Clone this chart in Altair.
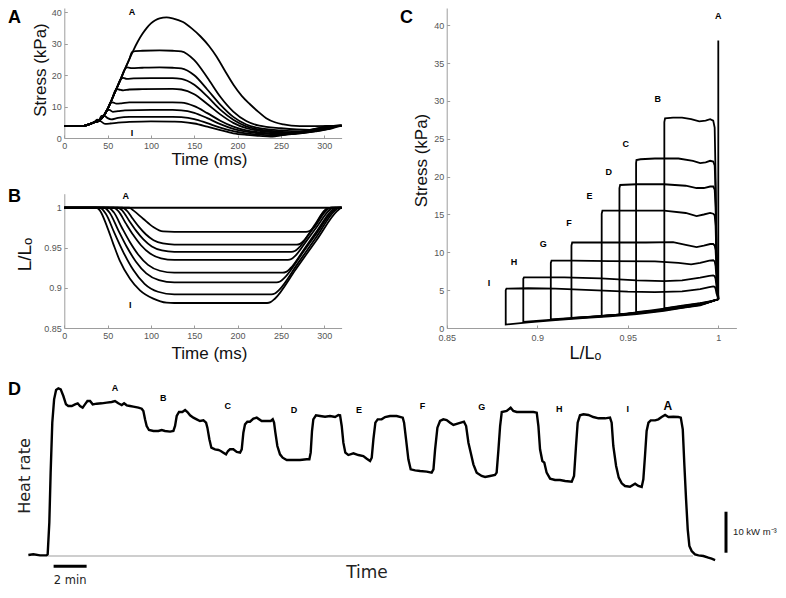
import altair as alt
import pandas as pd

RUNS = ["A", "B", "C", "D", "E", "F", "G", "H", "I"]

# ---------------- Panel A: stress (kPa) vs time (ms), (time, stress) per run
stress_A = [(0, 3.8), (20, 3.8), (25, 4.0), (30, 4.5), (35, 5.0), (40, 5.5), (45, 6.8), (50, 9.2), (55, 12.3),
            (60, 15.5), (65, 18.6), (70, 21.9), (75, 25.0), (80, 28.0), (85, 30.7), (90, 33.0), (95, 34.9),
            (100, 36.4), (105, 37.4), (110, 38.0), (118, 38.3), (125, 38.0), (137, 36.8), (147, 34.8),
            (157, 32.3), (167, 29.2), (176, 25.7), (185, 21.5), (195, 17.0), (205, 13.3), (214, 10.8),
            (224, 8.3), (233, 6.3), (243, 5.0), (253, 4.3), (262, 3.9), (272, 3.8), (290, 3.8), (320, 3.9)]
stress_B = [(0, 3.8), (20, 3.8), (25, 4.0), (30, 4.5), (35, 5.0), (40, 5.5), (45, 6.8), (50, 9.2), (55, 12.3),
            (60, 15.5), (65, 18.6), (70, 21.9), (75, 25.0), (78, 27.2), (82, 27.6), (90, 27.7), (110, 27.8),
            (125, 27.7), (135, 27.5), (150, 24.7), (165, 19.2), (180, 13.1), (195, 8.4), (210, 5.4),
            (225, 3.9), (250, 3.1), (283, 2.6), (293, 3.1), (303, 3.8), (320, 3.9)]
stress_C = [(0, 3.8), (20, 3.8), (25, 4.0), (30, 4.5), (35, 5.0), (40, 5.5), (45, 6.8), (50, 9.2), (55, 12.3),
            (60, 15.5), (65, 18.6), (70, 21.9), (73, 22.4), (78, 22.2), (90, 22.3), (110, 22.4), (125, 22.3),
            (135, 22.1), (150, 19.9), (165, 15.4), (180, 10.6), (195, 6.7), (210, 4.3), (225, 3.1),
            (250, 2.4), (272, 2.1), (285, 2.6), (295, 3.1), (303, 3.8), (320, 3.9)]
stress_D = [(0, 3.8), (20, 3.8), (25, 4.0), (30, 4.5), (35, 5.0), (40, 5.5), (45, 6.8), (50, 9.2), (55, 12.3),
            (60, 15.5), (65, 18.6), (68, 19.1), (72, 18.8), (80, 18.9), (100, 19.0), (125, 19.0), (135, 18.8),
            (150, 16.9), (165, 13.2), (180, 9.0), (195, 5.8), (210, 3.7), (225, 2.7), (245, 2.1), (266, 1.8),
            (280, 2.3), (293, 2.9), (305, 3.8), (320, 3.9)]
stress_E = [(0, 3.8), (20, 3.8), (25, 4.0), (30, 4.5), (35, 5.0), (40, 5.5), (45, 6.8), (50, 9.2), (55, 12.3),
            (60, 15.5), (63, 15.4), (68, 15.1), (75, 15.4), (90, 15.5), (125, 15.6), (135, 15.4), (150, 13.9),
            (165, 10.8), (180, 7.5), (195, 4.8), (210, 3.1), (225, 2.3), (245, 1.8), (262, 1.6), (278, 2.0),
            (295, 2.8), (308, 3.8), (320, 3.9)]
stress_F = [(0, 3.8), (20, 3.8), (25, 4.0), (30, 4.5), (35, 5.0), (40, 5.5), (45, 6.8), (50, 9.2), (53, 11.1),
            (56, 11.3), (60, 10.9), (66, 11.0), (75, 11.3), (100, 11.3), (125, 11.3), (135, 11.2), (150, 10.1),
            (165, 7.9), (180, 5.5), (195, 3.6), (210, 2.4), (225, 1.8), (240, 1.5), (256, 1.3), (275, 1.8),
            (295, 2.6), (311, 3.8), (320, 3.9)]
stress_G = [(0, 3.8), (20, 3.8), (25, 4.0), (30, 4.5), (35, 5.0), (40, 5.5), (45, 6.8), (49, 8.8), (52, 8.9),
            (56, 8.3), (62, 8.5), (70, 8.8), (100, 8.9), (125, 8.9), (135, 8.8), (150, 8.0), (165, 6.3),
            (180, 4.4), (195, 2.9), (210, 2.0), (225, 1.5), (249, 1.15), (270, 1.6), (292, 2.4), (305, 3.0),
            (313, 3.8), (320, 3.9)]
stress_H = [(0, 3.8), (20, 3.8), (25, 4.0), (30, 4.5), (35, 5.0), (40, 5.6), (43, 7.0), (46, 7.1), (50, 6.3),
            (54, 5.9), (62, 6.4), (75, 6.7), (100, 6.7), (125, 6.7), (135, 6.6), (150, 6.0), (165, 4.7),
            (180, 3.3), (195, 2.2), (210, 1.45), (225, 1.1), (243, 0.8), (265, 1.3), (290, 2.1), (305, 2.9),
            (315, 3.8), (320, 3.9)]
stress_I = [(0, 3.8), (20, 3.8), (25, 4.0), (30, 4.5), (35, 5.2), (38, 5.8), (42, 5.3), (47, 4.5), (53, 4.6),
            (62, 4.9), (75, 5.1), (100, 5.3), (125, 5.2), (135, 5.1), (150, 4.6), (165, 3.6), (180, 2.5),
            (195, 1.5), (210, 1.0), (225, 0.7), (238, 0.45), (258, 1.2), (278, 1.7), (298, 2.6), (308, 3.0),
            (318, 3.8), (320, 3.85)]

# ---------------- Panel B: L/Lo vs time (ms)
length_A = [(0, 1.0), (320, 1.0)]
length_B = [(0, 1.0), (75, 1.0), (79.6, 0.9967), (91, 0.9863), (102.7, 0.976), (114, 0.9705), (127, 0.970),
            (279, 0.970), (283, 0.971), (288, 0.9755), (300, 0.996), (304, 0.9995), (308, 1.0), (320, 1.0)]
length_C = [(0, 1.0), (67, 1.0), (71.8, 0.9968), (79, 0.9862), (86.2, 0.9761), (94, 0.9669), (103, 0.9595),
            (113.8, 0.9554), (127, 0.954), (268, 0.954), (272, 0.955), (277, 0.9595), (288.5, 0.9778),
            (300, 0.996), (304, 0.9995), (308, 1.0), (320, 1.0)]
length_D = [(0, 1.0), (62, 1.0), (67.2, 0.9962), (75, 0.9835), (82.8, 0.9714), (91.3, 0.9604), (101, 0.9516),
            (112.7, 0.9467), (127, 0.945), (262, 0.945), (266, 0.946), (271, 0.9505), (281.3, 0.9657),
            (291.7, 0.9808), (302, 0.996), (306, 0.9995), (310, 1.0), (320, 1.0)]
length_E = [(0, 1.0), (57, 1.0), (62.6, 0.9955), (71, 0.9805), (79.4, 0.9662), (88.5, 0.9532), (99, 0.9428),
            (111.6, 0.9369), (127, 0.935), (258, 0.935), (262, 0.936), (267, 0.9405), (279.7, 0.959),
            (292.3, 0.9775), (305, 0.996), (309, 0.9995), (313, 1.0), (320, 1.0)]
length_F = [(0, 1.0), (51, 1.0), (57.1, 0.9943), (66.2, 0.9757), (75.3, 0.9579), (85.2, 0.9417), (96.6, 0.9287),
            (110.3, 0.9214), (127, 0.919), (252, 0.919), (256, 0.920), (261, 0.9245), (276.7, 0.9483),
            (292.3, 0.9722), (308, 0.996), (312, 0.9995), (316, 1.0), (320, 1.0)]
length_G = [(0, 1.0), (46, 1.0), (52.5, 0.9935), (62.2, 0.9721), (71.9, 0.9516), (82.5, 0.933), (94.6, 0.9182),
            (109.2, 0.9098), (127, 0.907), (245, 0.907), (249, 0.908), (254, 0.9125), (272.7, 0.9403),
            (291.3, 0.9682), (310, 0.996), (314, 0.9995), (318, 1.0), (320, 1.0)]
length_H = [(0, 1.0), (41, 1.0), (47.9, 0.9924), (58.2, 0.9676), (68.5, 0.9438), (79.7, 0.9222), (92.6, 0.905),
            (108.1, 0.8952), (127, 0.892), (239, 0.892), (243, 0.893), (248, 0.8975), (269.3, 0.9303),
            (290.7, 0.9632), (312, 0.996), (316, 0.9995), (320, 1.0)]
length_I = [(0, 1.0), (37, 1.0), (41, 0.9967), (48.8, 0.978), (56.5, 0.955), (64, 0.934), (75.8, 0.9115),
            (87.3, 0.897), (102.7, 0.8866), (118, 0.8816), (127, 0.8812), (234, 0.8812), (238, 0.8822),
            (243, 0.8865), (267, 0.923), (291, 0.9595), (315, 0.996), (319, 0.9995), (320, 0.9997)]

# ---------------- Panel C: work loops (L/Lo, stress)
loop_A = [(1.0, 3.8), (1.0, 38.0), (1.0, 3.8)]
loop_B = [(1.0, 3.8), (0.999, 10), (0.9985, 20), (0.998, 26.5), (0.9972, 27.4), (0.9955, 27.6), (0.993, 27.4),
          (0.9895, 27.3), (0.985, 27.6), (0.980, 27.8), (0.975, 27.8), (0.9706, 27.7), (0.9702, 27.2),
          (0.9702, 2.6), (0.980, 2.95), (0.990, 3.3), (0.996, 3.55), (1.0, 3.8)]
loop_C = [(1.0, 3.8), (0.999, 10), (0.9985, 18), (0.998, 21.5), (0.9972, 22.0), (0.9955, 22.1), (0.993, 21.9),
          (0.990, 21.8), (0.986, 22.1), (0.978, 22.4), (0.965, 22.4), (0.957, 22.3), (0.9548, 22.2),
          (0.9546, 21.8), (0.9546, 2.1), (0.962, 2.3), (0.970, 2.55), (0.980, 2.9), (0.990, 3.25),
          (0.996, 3.5), (1.0, 3.8)]
loop_D = [(1.0, 3.8), (0.999, 10), (0.9985, 16), (0.998, 18.3), (0.9972, 18.7), (0.9955, 18.7), (0.992, 18.5),
          (0.988, 18.5), (0.982, 18.8), (0.970, 19.0), (0.955, 19.0), (0.9458, 18.9), (0.9454, 18.5),
          (0.9454, 1.8), (0.955, 2.05), (0.965, 2.3), (0.975, 2.65), (0.985, 3.0), (0.993, 3.35), (1.0, 3.8)]
loop_E = [(1.0, 3.8), (0.999, 9), (0.9985, 13.5), (0.998, 14.9), (0.9972, 15.1), (0.9955, 15.2), (0.992, 15.0),
          (0.988, 14.8), (0.982, 15.2), (0.970, 15.5), (0.950, 15.5), (0.936, 15.5), (0.9356, 15.1),
          (0.9356, 1.6), (0.945, 1.78), (0.955, 2.0), (0.965, 2.25), (0.975, 2.6), (0.985, 2.95),
          (0.993, 3.3), (1.0, 3.8)]
loop_F = [(1.0, 3.8), (0.999, 8), (0.9985, 10.3), (0.998, 10.9), (0.9972, 11.1), (0.9955, 11.1), (0.992, 10.9),
          (0.988, 10.7), (0.982, 11.0), (0.975, 11.35), (0.960, 11.3), (0.940, 11.3), (0.9193, 11.3),
          (0.9189, 10.9), (0.9189, 1.33), (0.930, 1.5), (0.945, 1.75), (0.960, 2.1), (0.975, 2.55),
          (0.985, 2.9), (0.993, 3.25), (1.0, 3.8)]
loop_G = [(1.0, 3.8), (0.999, 6.5), (0.9985, 8.2), (0.998, 8.8), (0.9972, 8.95), (0.995, 8.9), (0.990, 8.6),
          (0.985, 8.4), (0.978, 8.6), (0.965, 8.8), (0.940, 8.85), (0.920, 8.9), (0.9079, 8.9), (0.9075, 8.6),
          (0.9075, 1.15), (0.920, 1.32), (0.935, 1.55), (0.950, 1.85), (0.965, 2.25), (0.980, 2.75),
          (0.990, 3.1), (1.0, 3.8)]
loop_H = [(1.0, 3.8), (0.999, 5.5), (0.9985, 6.5), (0.998, 6.85), (0.9972, 6.95), (0.995, 6.9), (0.990, 6.65),
          (0.980, 6.3), (0.970, 6.2), (0.955, 6.3), (0.935, 6.55), (0.915, 6.7), (0.8927, 6.7), (0.8923, 6.5),
          (0.8923, 0.8), (0.905, 1.05), (0.920, 1.3), (0.935, 1.55), (0.950, 1.85), (0.965, 2.2),
          (0.980, 2.7), (0.990, 3.05), (1.0, 3.8)]
loop_I = [(1.0, 3.8), (0.999, 4.6), (0.9985, 5.2), (0.998, 5.45), (0.9972, 5.5), (0.995, 5.4), (0.990, 5.15),
          (0.980, 4.85), (0.965, 4.75), (0.950, 4.8), (0.930, 5.0), (0.910, 5.2), (0.895, 5.25), (0.883, 5.2),
          (0.8826, 5.0), (0.8826, 0.45), (0.895, 0.75), (0.910, 1.05), (0.925, 1.3), (0.940, 1.55),
          (0.955, 1.85), (0.970, 2.25), (0.980, 2.65), (0.990, 3.0), (1.0, 3.8)]

# ---------------- Panel D: heat rate trace (time in min, heat rate in kW m^-3)
heat_trace = [
    (0.02, 0.24), (0.32, 0.41), (0.73, 0.16), (1.13, 0.16), (1.19, 0.41), (1.29, 8.13), (1.37, 20.33),
    (1.47, 32.52), (1.58, 38.21), (1.70, 40.49), (1.84, 40.89), (1.98, 40.65), (2.14, 39.02), (2.30, 36.99),
    (2.44, 36.59), (2.65, 36.59), (2.85, 36.99), (3.01, 37.24), (3.15, 36.59), (3.31, 36.18), (3.45, 36.99),
    (3.60, 37.80), (3.76, 37.80), (3.92, 36.99), (4.16, 37.15), (4.46, 37.24), (4.77, 37.40), (5.07, 37.56),
    (5.27, 37.80), (5.47, 37.24), (5.68, 36.83), (5.82, 37.24), (5.98, 36.75), (6.18, 36.59), (6.38, 36.42),
    (6.69, 36.18), (6.89, 35.93), (6.99, 35.37), (7.09, 33.33), (7.19, 31.71), (7.33, 30.73), (7.60, 30.49),
    (7.90, 30.49), (8.10, 30.73), (8.30, 30.49), (8.61, 30.33), (8.81, 30.49), (8.91, 31.71), (9.01, 34.15),
    (9.15, 35.12), (9.35, 35.12), (9.52, 35.61), (9.66, 35.12), (9.82, 34.31), (10.02, 33.74), (10.22, 33.33),
    (10.42, 32.93), (10.63, 33.09), (10.79, 32.52), (10.87, 31.30), (10.99, 28.46), (11.11, 26.42),
    (11.33, 26.02), (11.54, 25.85), (11.68, 25.61), (11.84, 25.20), (12.00, 24.80), (12.12, 25.61),
    (12.24, 26.02), (12.44, 26.02), (12.65, 25.37), (12.85, 25.20), (12.95, 26.02), (13.05, 30.08),
    (13.15, 32.11), (13.29, 32.76), (13.45, 32.76), (13.66, 33.50), (13.86, 33.74), (14.16, 32.93),
    (14.46, 32.93), (14.71, 32.93), (14.83, 33.33), (14.91, 32.52), (14.99, 30.08), (15.11, 26.83),
    (15.27, 24.80), (15.43, 23.98), (15.68, 23.41), (16.08, 23.41), (16.48, 23.41), (16.89, 23.58),
    (17.05, 23.58), (17.13, 25.20), (17.21, 30.49), (17.29, 33.33), (17.45, 34.31), (17.70, 34.15),
    (18.00, 33.98), (18.30, 34.15), (18.61, 33.90), (18.81, 34.39), (18.91, 34.31), (19.01, 31.71),
    (19.11, 27.64), (19.23, 25.20), (19.41, 24.63), (19.72, 25.04), (20.02, 24.63), (20.32, 24.39),
    (20.53, 23.74), (20.73, 23.17), (20.83, 23.98), (20.93, 28.46), (21.05, 32.52), (21.19, 33.33),
    (21.43, 33.33), (21.64, 33.90), (21.94, 34.15), (22.34, 34.15), (22.71, 33.74), (22.79, 32.52),
    (22.91, 28.46), (23.05, 23.58), (23.19, 21.14), (23.46, 20.89), (23.76, 20.73), (24.16, 20.57),
    (24.46, 20.33), (24.57, 21.14), (24.67, 26.02), (24.81, 31.30), (24.97, 32.93), (25.17, 33.33),
    (25.37, 33.17), (25.58, 32.52), (25.78, 31.95), (26.08, 32.36), (26.42, 32.76), (26.55, 31.71),
    (26.69, 27.64), (26.83, 25.20), (26.99, 22.36), (27.19, 20.33), (27.49, 19.51), (27.70, 19.27),
    (28.00, 19.51), (28.30, 19.76), (28.40, 20.33), (28.51, 26.02), (28.61, 31.71), (28.71, 35.12),
    (29.01, 35.37), (29.25, 36.18), (29.41, 35.37), (29.62, 35.12), (29.92, 35.12), (30.22, 35.12),
    (30.63, 35.12), (30.83, 34.96), (30.93, 31.71), (31.03, 26.02), (31.17, 23.17), (31.29, 22.76),
    (31.43, 20.33), (31.64, 18.86), (31.94, 18.54), (32.24, 18.54), (32.55, 18.29), (32.95, 18.13),
    (33.09, 19.51), (33.21, 26.83), (33.31, 32.52), (33.45, 34.31), (33.66, 34.55), (33.96, 34.39),
    (34.26, 33.90), (34.57, 33.58), (34.97, 33.58), (35.27, 33.74), (35.37, 32.52), (35.47, 26.83),
    (35.64, 21.95), (35.80, 19.11), (35.98, 17.72), (36.18, 17.07), (36.48, 16.91), (36.79, 17.64),
    (36.99, 17.07), (37.19, 16.83), (37.29, 18.70), (37.39, 24.39), (37.49, 30.49), (37.60, 32.52),
    (37.74, 33.09), (38.00, 33.09), (38.20, 33.33), (38.40, 33.90), (38.61, 34.39), (38.81, 33.90),
    (39.11, 33.98), (39.41, 33.90), (39.56, 33.74), (39.68, 30.89), (39.78, 21.95), (39.88, 13.82),
    (39.98, 6.50), (40.08, 2.44), (40.22, 1.22), (40.42, 0.41), (40.63, 0.16), (40.93, 0.00),
    (41.23, -0.41), (41.43, -0.65), (41.64, -0.98)]

# tick values
time_ticks = [0, 50, 100, 150, 200, 250, 300]
stressA_ticks = [0, 10, 20, 30, 40]
lengthB_ticks = [0.85, 0.9, 0.95, 1]
lengthC_ticks = [0.85, 0.9, 0.95, 1]
stressC_ticks = [0, 5, 10, 15, 20, 25, 30, 35, 40]

# run labels
labA_text = ["A", "I"]
labA_t = [78, 78]
labA_v = [40.0, 1.6]
labB_text = ["A", "I"]
labB_t = [71, 76]
labB_L = [1.0146, 0.8787]
labC_text = RUNS
labC_L = [1.0, 0.9665, 0.9489, 0.9395, 0.9288, 0.9175, 0.9033, 0.8872, 0.8734]
labC_v = [41.2, 30.2, 24.35, 20.6, 17.45, 13.9, 11.1, 8.7, 6.0]
labD_text = ["A", "B", "C", "D", "E", "F", "G", "H", "I", "A"]
labD_t = [5.27, 8.2, 12.1, 16.12, 20.06, 23.9, 27.5, 32.2, 36.35, 38.77]
labD_v = [41.0, 38.5, 36.7, 35.7, 35.7, 36.5, 36.3, 35.9, 35.9, 36.5]

# scale bars of panel D
bar_time = [1.55, 3.55]       # 2 min
bar_time_level = -2.5
bar_heat = [0.8, 10.8]        # 10 kW m^-3
bar_heat_at = 42.3
bar_time_label = ("2 min", 2.55, -6.1)
bar_heat_label = ("10 kW m\u207b\u00b3", 42.73, 5.8)
baseline_span = [1.21, 40.3]  # grey zero line of panel D

# ---------------- layout (plot pixels)
W, H = 770, 578
X_AB = [56.3, 333.6]
Y_A = [130, 0]
Y_B = [320, 185.7]
X_C = [438.7, 728.4]
Y_C = [320, 0]
X_D = [40, 685]
Y_D = [548, 384]

AF = "Liberation Sans"
DF = "DejaVu Sans"
GREY = "#9d9d9d"
LABEXPR = "'' + datum.value"


def long_df(series, xname, yname):
    rows = []
    for run, pts in zip(RUNS, series):
        for i, (a, b) in enumerate(pts):
            rows.append({"run": run, xname: a, yname: b, "idx": i})
    return pd.DataFrame(rows)


dfA = long_df([stress_A, stress_B, stress_C, stress_D, stress_E, stress_F, stress_G, stress_H, stress_I], "t", "v")
dfB = long_df([length_A, length_B, length_C, length_D, length_E, length_F, length_G, length_H, length_I], "t", "L")
dfC = long_df([loop_A, loop_B, loop_C, loop_D, loop_E, loop_F, loop_G, loop_H, loop_I], "L", "v")
dfD = pd.DataFrame(heat_trace, columns=["t", "v"])


def main_x(values, y_px, title, tx, ty, tsize=17, tfont=AF, lpad=3):
    return alt.Axis(orient="bottom", offset=y_px - H, values=values, labelExpr=LABEXPR, title=title,
                    titleX=tx, titleY=ty, titleFontSize=tsize, titleFont=tfont, titleAlign="center",
                    titleBaseline="middle", titleFontWeight="normal", titleColor="#111111",
                    labelFont=AF, labelFontSize=9, labelColor="#555555", labelPadding=lpad,
                    labelFlush=False, labelOverlap=False, ticks=False, domainColor=GREY,
                    domainWidth=1, grid=False)


def main_y(values, x_px, title, tx, ty, tsize=17):
    return alt.Axis(orient="left", offset=-x_px, values=values, labelExpr=LABEXPR, title=title,
                    titleX=tx, titleY=ty, titleFontSize=tsize, titleFont=AF, titleAngle=270,
                    titleAlign="center", titleBaseline="middle", titleFontWeight="normal",
                    titleColor="#111111", labelFont=AF, labelFontSize=9, labelColor="#555555",
                    labelPadding=3, labelFlush=False, labelOverlap=False, ticks=False,
                    domainColor=GREY, domainWidth=1, grid=False)


def tick_x(values, y_px):
    return alt.Axis(orient="top", offset=-y_px, values=values, labels=False, domain=False, ticks=True,
                    tickSize=3, tickColor=GREY, tickWidth=1, grid=False, title=None)


def tick_y(values, x_px):
    return alt.Axis(orient="right", offset=x_px - W, values=values, labels=False, domain=False, ticks=True,
                    tickSize=3, tickColor=GREY, tickWidth=1, grid=False, title=None)


def sc(domain, rng):
    return alt.Scale(domain=domain, range=rng, nice=False, zero=False)


lab_style = dict(font=AF, fontSize=9, fontWeight="bold", color="black", align="center", baseline="middle")

# ---- Panel A
sxA, syA = sc([0, 320], X_AB), sc([0, 41.27], Y_A)
pA = alt.layer(
    alt.Chart(dfA).mark_line(color="black", strokeWidth=1.8, interpolate="monotone").encode(
        x=alt.X("t:Q", scale=sxA, axis=main_x(time_ticks, Y_A[0], "Time (ms)", 201, 21.5)),
        y=alt.Y("v:Q", scale=syA, axis=main_y(stressA_ticks, X_AB[0], "Stress (kPa)", -24.3, 61.5)),
        detail="run:N"),
    alt.Chart(pd.DataFrame({"t": labA_t, "v": labA_v, "s": labA_text})).mark_text(**lab_style).encode(
        x=alt.X("t:Q", scale=sxA, axis=tick_x(time_ticks, Y_A[0])),
        y=alt.Y("v:Q", scale=syA, axis=tick_y(stressA_ticks, X_AB[0])),
        text="s:N"),
)

# ---- Panel B
sxB, syB = sc([0, 320], X_AB), sc([0.85, 1.0175], Y_B)
pB = alt.layer(
    alt.Chart(dfB).mark_line(color="black", strokeWidth=1.8, interpolate="monotone").encode(
        x=alt.X("t:Q", scale=sxB, axis=main_x(time_ticks, Y_B[0], "Time (ms)", 201, 25)),
        y=alt.Y("L:Q", scale=syB, axis=main_y(lengthB_ticks, X_AB[0], "L/L\u2092", -40, 246, tsize=19)),
        detail="run:N"),
    alt.Chart(pd.DataFrame({"t": labB_t, "L": labB_L, "s": labB_text})).mark_text(**lab_style).encode(
        x=alt.X("t:Q", scale=sxB, axis=tick_x(time_ticks, Y_B[0])),
        y=alt.Y("L:Q", scale=syB, axis=tick_y(lengthB_ticks, X_AB[0])),
        text="s:N"),
)

# ---- Panel C
sxC, syC = sc([0.85, 1.01], X_C), sc([0, 42.29], Y_C)
pC = alt.layer(
    alt.Chart(dfC).mark_line(color="black", strokeWidth=1.8).encode(
        x=alt.X("L:Q", scale=sxC, axis=main_x(lengthC_ticks, Y_C[0], "L/L\u2092", 577, 25, tsize=18, lpad=5)),
        y=alt.Y("v:Q", scale=syC, axis=main_y(stressC_ticks, X_C[0], "Stress (kPa)", -25, 152)),
        detail="run:N", order=alt.Order("idx:Q")),
    alt.Chart(pd.DataFrame({"L": labC_L, "v": labC_v, "s": labC_text})).mark_text(**lab_style).encode(
        x=alt.X("L:Q", scale=sxC, axis=tick_x(lengthC_ticks, Y_C[0])),
        y=alt.Y("v:Q", scale=syC, axis=tick_y(stressC_ticks, X_C[0])),
        text="s:N"),
)

# ---- Panel D
sxD, syD = sc([1.21, 40.3], X_D), sc([0, 40], Y_D)
labD = pd.DataFrame({"t": labD_t, "v": labD_v, "s": labD_text})
pD = alt.layer(
    alt.Chart(pd.DataFrame({"t1": [baseline_span[0]], "t2": [baseline_span[1]], "v": [0]}))
    .mark_rule(color=GREY, strokeWidth=1).encode(
        x=alt.X("t1:Q", scale=sxD, axis=None), x2="t2:Q", y=alt.Y("v:Q", scale=syD, axis=None)),
    alt.Chart(dfD).mark_line(color="black", strokeWidth=2.4).encode(
        x=alt.X("t:Q", scale=sxD, axis=None), y=alt.Y("v:Q", scale=syD, axis=None)),
    alt.Chart(labD.iloc[:-1]).mark_text(**lab_style).encode(
        x=alt.X("t:Q", scale=sxD, axis=None), y=alt.Y("v:Q", scale=syD, axis=None), text="s:N"),
    alt.Chart(labD.iloc[-1:]).mark_text(font=AF, fontSize=12, fontWeight="bold", color="black",
                                        align="center", baseline="middle").encode(
        x=alt.X("t:Q", scale=sxD, axis=None), y=alt.Y("v:Q", scale=syD, axis=None), text="s:N"),
    alt.Chart(pd.DataFrame({"t1": [bar_time[0]], "t2": [bar_time[1]], "v": [bar_time_level]}))
    .mark_rule(color="black", strokeWidth=3).encode(
        x=alt.X("t1:Q", scale=sxD, axis=None), x2="t2:Q", y=alt.Y("v:Q", scale=syD, axis=None)),
    alt.Chart(pd.DataFrame({"t": [bar_heat_at], "v1": [bar_heat[0]], "v2": [bar_heat[1]]}))
    .mark_rule(color="black", strokeWidth=3).encode(
        x=alt.X("t:Q", scale=sxD, axis=None), y=alt.Y("v1:Q", scale=syD, axis=None), y2="v2:Q"),
    alt.Chart(pd.DataFrame({"s": [bar_time_label[0]], "t": [bar_time_label[1]], "v": [bar_time_label[2]]}))
    .mark_text(font=DF, fontSize=11.5, color="#222222", align="center", baseline="middle").encode(
        x=alt.X("t:Q", scale=sxD, axis=None), y=alt.Y("v:Q", scale=syD, axis=None), text="s:N"),
    alt.Chart(pd.DataFrame({"s": [bar_heat_label[0]], "t": [bar_heat_label[1]], "v": [bar_heat_label[2]]}))
    .mark_text(font=AF, fontSize=9.5, color="#222222", align="left", baseline="middle").encode(
        x=alt.X("t:Q", scale=sxD, axis=None), y=alt.Y("v:Q", scale=syD, axis=None), text="s:N"),
)

# ---- free texts: panel letters and panel D axis titles
texts = []
for s, px, py, size, font, weight, angle in [
        ("A", 0, 15, 18, AF, "bold", 0), ("B", 0, 194, 18, AF, "bold", 0), ("C", 392, 15, 18, AF, "bold", 0),
        ("D", 0, 387, 18, AF, "bold", 0), ("Time", 359, 565, 17, DF, "normal", 0),
        ("Heat rate", 17, 468, 16, DF, "normal", 270)]:
    texts.append(
        alt.Chart(pd.DataFrame({"s": [s]})).mark_text(
            font=font, fontSize=size, fontWeight=weight, color="black" if weight == "bold" else "#222222",
            align="left" if weight == "bold" else "center",
            baseline="alphabetic" if weight == "bold" else "middle", angle=angle
        ).encode(x=alt.value(px), y=alt.value(py), text="s:N"))

chart = (
    alt.layer(pA, pB, pC, pD, *texts)
    .resolve_scale(x="independent", y="independent")
    .properties(width=W, height=H, padding=0, autosize=alt.AutoSizeParams(type="none"),
                background="white")
    .configure_view(stroke=None)
)

chart.save("out.html", embed_options={"renderer": "svg", "actions": False})
